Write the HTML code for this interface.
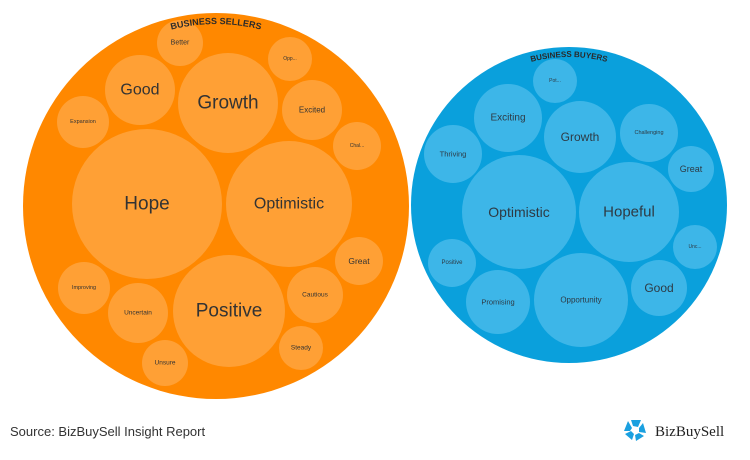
<!DOCTYPE html>
<html><head><style>
html,body{margin:0;padding:0;background:#fff;}
svg{display:block;font-family:"Liberation Sans",sans-serif;}
</style></head><body>
<svg width="750" height="460" viewBox="0 0 750 460">
<defs>
<path id="arcS" d="M 61.4 110 A 182 182 0 0 1 370.6 110"/>
<path id="arcB" d="M 475.8 90 A 148 148 0 0 1 662.2 90"/>
</defs>
<circle cx="216" cy="206" r="193" fill="#ff8800"/>
<g fill="#ffa035">
<circle cx="180" cy="43" r="23"/><circle cx="290" cy="59" r="22"/><circle cx="140" cy="90" r="35"/>
<circle cx="228" cy="103" r="50"/><circle cx="312" cy="110" r="30"/><circle cx="83" cy="122" r="26"/>
<circle cx="357" cy="146" r="24"/><circle cx="147" cy="204" r="75"/><circle cx="289" cy="204" r="63"/>
<circle cx="359" cy="261" r="24"/><circle cx="84" cy="288" r="26"/><circle cx="315" cy="295" r="28"/>
<circle cx="138" cy="313" r="30"/><circle cx="229" cy="311" r="56"/><circle cx="301" cy="348" r="22"/>
<circle cx="165" cy="363" r="23"/>
</g>
<g fill="#333" text-anchor="middle" dominant-baseline="central">
<text x="180" y="43" font-size="7">Better</text>
<text x="290" y="59" font-size="5">Opp...</text>
<text x="140" y="90" font-size="16">Good</text>
<text x="228" y="103" font-size="19">Growth</text>
<text x="312" y="110" font-size="8">Excited</text>
<text x="83" y="122" font-size="5.5">Expansion</text>
<text x="357" y="146" font-size="5">Chal...</text>
<text x="147" y="204" font-size="19">Hope</text>
<text x="289" y="204" font-size="16">Optimistic</text>
<text x="359" y="261" font-size="8.5">Great</text>
<text x="84" y="288" font-size="5.5">Improving</text>
<text x="315" y="295" font-size="6.5">Cautious</text>
<text x="138" y="313" font-size="6.5">Uncertain</text>
<text x="229" y="311" font-size="19">Positive</text>
<text x="301" y="348" font-size="6.5">Steady</text>
<text x="165" y="363" font-size="6.5">Unsure</text>
</g>
<text font-size="9" font-weight="bold" fill="#2a2a2a"><textPath href="#arcS" startOffset="50%" text-anchor="middle">BUSINESS SELLERS</textPath></text>

<circle cx="569" cy="205" r="158" fill="#0aa0dc"/>
<g fill="#3db6e8">
<circle cx="555" cy="81" r="22"/><circle cx="508" cy="118" r="34"/><circle cx="580" cy="137" r="36"/>
<circle cx="649" cy="133" r="29"/><circle cx="453" cy="154" r="29"/><circle cx="691" cy="169" r="23"/>
<circle cx="519" cy="212" r="57"/><circle cx="629" cy="212" r="50"/><circle cx="695" cy="247" r="22"/>
<circle cx="452" cy="263" r="24"/><circle cx="659" cy="288" r="28"/><circle cx="498" cy="302" r="32"/>
<circle cx="581" cy="300" r="47"/>
</g>
<g fill="#2e3a44" text-anchor="middle" dominant-baseline="central">
<text x="555" y="81" font-size="5">Pot...</text>
<text x="508" y="118" font-size="10">Exciting</text>
<text x="580" y="137" font-size="12">Growth</text>
<text x="649" y="133" font-size="5.5">Challenging</text>
<text x="453" y="154" font-size="7.5">Thriving</text>
<text x="691" y="169" font-size="9">Great</text>
<text x="519" y="212" font-size="14">Optimistic</text>
<text x="629" y="212" font-size="15">Hopeful</text>
<text x="695" y="247" font-size="5">Unc...</text>
<text x="452" y="263" font-size="6">Positive</text>
<text x="659" y="288" font-size="12">Good</text>
<text x="498" y="302" font-size="7.5">Promising</text>
<text x="581" y="300" font-size="8">Opportunity</text>
</g>
<text font-size="8" font-weight="bold" fill="#2a2a2a"><textPath href="#arcB" startOffset="50%" text-anchor="middle">BUSINESS BUYERS</textPath></text>

<text x="10" y="436" font-size="13" fill="#333">Source: BizBuySell Insight Report</text>
<g transform="translate(635,430)" fill="#1aa0e0">
<path d="M-4,-10 L6,-10 L3,-3 L-2,-4 Z"/><path d="M8,-7 L11,3 L4,2 L4,-2 Z"/><path d="M9,6 L1,11 L0,5 L4,3 Z"/><path d="M-3,10 L-10,4 L-4,1 L-1,4 Z"/><path d="M-11,1 L-7,-9 L-3,-2 L-5,1 Z"/>
</g>
<text x="655" y="436" font-size="15" font-family="Liberation Serif,serif" fill="#222">BizBuySell</text>
</svg>
</body></html>
